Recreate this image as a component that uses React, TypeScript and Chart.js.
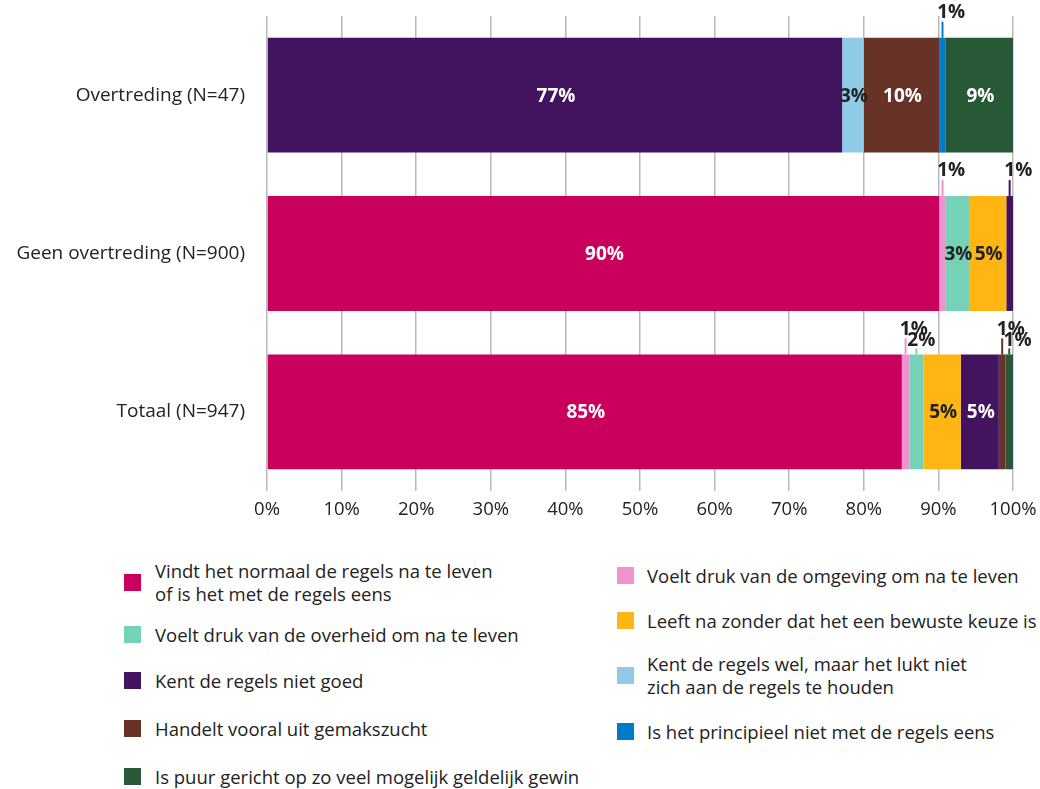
import React, { useEffect, useRef } from "react";
import { Chart, registerables } from "chart.js";

Chart.register(...registerables);

const categories = ["Overtreding (N=47)", "Geen overtreding (N=900)", "Totaal (N=947)"];
const xTicks = [0, 10, 20, 30, 40, 50, 60, 70, 80, 90, 100];

const seriesNames = [
  "Vindt het normaal de regels na te leven\nof is het met de regels eens",
  "Voelt druk van de omgeving om na te leven",
  "Voelt druk van de overheid om na te leven",
  "Leeft na zonder dat het een bewuste keuze is",
  "Kent de regels niet goed",
  "Kent de regels wel, maar het lukt niet\nzich aan de regels te houden",
  "Handelt vooral uit gemakszucht",
  "Is het principieel niet met de regels eens",
  "Is puur gericht op zo veel mogelijk geldelijk gewin",
];

const vindtNormaal = [0, 90.1, 85.1];
const drukOmgeving = [0, 0.9, 1.0];
const drukOverheid = [0, 3.1, 1.9];
const leeftNa = [0, 5.0, 5.0];
const kentNietGoed = [77.1, 0.9, 5.1];
const luktNiet = [2.9, 0, 0];
const gemakszucht = [10.1, 0, 0.9];
const principieel = [0.9, 0, 0];
const gewin = [9.0, 0, 1.0];

const seriesValues = [
  vindtNormaal,
  drukOmgeving,
  drukOverheid,
  leeftNa,
  kentNietGoed,
  luktNiet,
  gemakszucht,
  principieel,
  gewin,
];

const colors = [
  "#ca005d",
  "#f092cd",
  "#76d2b6",
  "#ffb612",
  "#42145f",
  "#8fcae7",
  "#673327",
  "#007bc7",
  "#275937",
];
const labelColors = ["#fff", "#222", "#222", "#222", "#fff", "#222", "#fff", "#fff", "#fff"];

const FONT = "'Open Sans', sans-serif";

const labelPlugin = {
  id: "segLabels",
  afterDatasetsDraw(chart: any) {
    const ctx = chart.ctx;
    const n = chart.data.labels.length;
    ctx.save();
    ctx.font = `bold 19px ${FONT}`;
    for (let j = 0; j < n; j++) {
      let prevSmall = false;
      for (let i = 0; i < chart.data.datasets.length; i++) {
        const v = chart.data.datasets[i].data[j];
        if (!v) continue;
        const el: any = chart.getDatasetMeta(i).data[j];
        const left = Math.min(el.x, el.base);
        const right = Math.max(el.x, el.base);
        const txt = Math.round(v) + "%";
        if (v >= 2.5) {
          ctx.fillStyle = labelColors[i];
          ctx.textAlign = "center";
          ctx.textBaseline = "middle";
          ctx.fillText(txt, (left + right) / 2 + 1, el.y + 1);
          prevSmall = false;
        } else {
          const top = el.y - el.height / 2;
          const high = !prevSmall;
          const lineLen = high ? 16 : 6;
          const labOff = high ? 25 : 14;
          const cx = (left + right) / 2;
          ctx.strokeStyle = colors[i];
          ctx.lineWidth = 2;
          ctx.beginPath();
          ctx.moveTo(cx, top);
          ctx.lineTo(cx, top - lineLen);
          ctx.stroke();
          ctx.fillStyle = "#222";
          ctx.textAlign = "left";
          ctx.textBaseline = "middle";
          ctx.fillText(txt, left - 2, top - labOff);
          prevSmall = true;
        }
      }
    }
    ctx.restore();
  },
};

const legendPos = [
  { x: 124, y: 582 },
  { x: 617, y: 575 },
  { x: 124, y: 634 },
  { x: 617, y: 620 },
  { x: 124, y: 680 },
  { x: 617, y: 675 },
  { x: 124, y: 728 },
  { x: 617, y: 731 },
  { x: 124, y: 776 },
];

const zeroPad = (s: any) => {
  s.paddingTop = 0;
  s.paddingBottom = 0;
  s.paddingLeft = 0;
  s.paddingRight = 0;
};

export default function App() {
  const ref = useRef<HTMLCanvasElement>(null);
  useEffect(() => {
    if (!ref.current) return;
    const chart = new Chart(ref.current, {
      type: "bar",
      data: {
        labels: categories,
        datasets: seriesValues.map((d, i) => ({
          label: seriesNames[i],
          data: d,
          backgroundColor: colors[i],
          borderWidth: 0,
          barPercentage: 0.7256,
          categoryPercentage: 1,
        })),
      },
      options: {
        indexAxis: "y",
        responsive: false,
        maintainAspectRatio: false,
        animation: false,
        layout: { padding: { top: 16, right: 27, left: 0, bottom: 0 } },
        plugins: {
          legend: { display: false },
          tooltip: { enabled: false },
        },
        scales: {
          x: {
            stacked: true,
            min: 0,
            max: 100,
            afterFit: (s: any) => {
              s.height = 39;
              zeroPad(s);
            },
            afterBuildTicks: (s: any) => {
              s.ticks = xTicks.map((v) => ({ value: v }));
            },
            border: { display: false },
            grid: { color: "#b8b8b8", lineWidth: 1.5, drawTicks: false },
            ticks: {
              padding: 8,
              color: "#222",
              font: { family: FONT, size: 18.5 },
              callback: (v: any) => v + "%",
            },
          },
          y: {
            stacked: true,
            afterFit: (s: any) => {
              s.width = 267;
              zeroPad(s);
            },
            border: { display: false },
            grid: { display: false, drawTicks: false },
            ticks: {
              padding: 22,
              color: "#222",
              font: { family: FONT, size: 19 },
            },
          },
        },
      },
      plugins: [labelPlugin],
    } as any);
    return () => chart.destroy();
  }, []);

  return (
    <div
      style={{
        position: "fixed",
        left: 0,
        top: 0,
        width: 1040,
        height: 789,
        overflow: "hidden",
        background: "#fff",
        fontFamily: FONT,
      }}
    >
      <canvas ref={ref} width={1040} height={530} style={{ position: "absolute", left: 0, top: 0 }} />
      {seriesNames.map((name, i) => {
        const p = legendPos[i];
        const lines = name.split("\n");
        const h = lines.length * 23;
        return (
          <div
            key={i}
            style={{
              position: "absolute",
              left: p.x,
              top: p.y - h / 2,
              height: h,
              display: "flex",
              alignItems: "center",
            }}
          >
            <div style={{ width: 17, height: 17, background: colors[i], flex: "none" }} />
            <div
              style={{
                marginLeft: i % 2 === 0 ? 14 : 13,
                fontSize: 18.5,
                lineHeight: "23px",
                color: "#222",
                whiteSpace: "nowrap",
              }}
            >
              {lines.map((l, k) => (
                <div key={k}>{l}</div>
              ))}
            </div>
          </div>
        );
      })}
    </div>
  );
}
